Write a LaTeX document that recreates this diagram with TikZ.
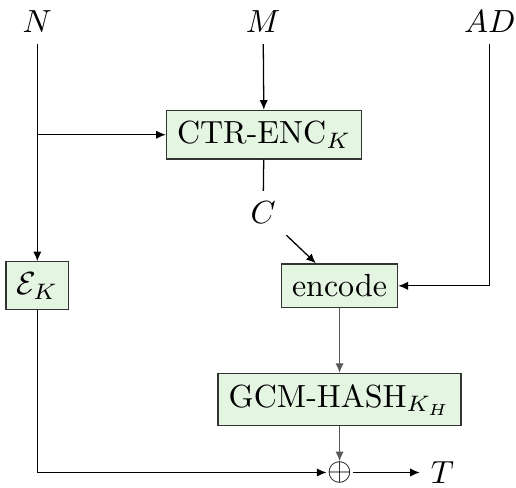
\documentclass[tikz,border=0pt]{standalone}
\usepackage{amsmath,amssymb}
\usepackage{tikz}
\usetikzlibrary{positioning,arrows.meta,calc}

\definecolor{boxfill}{RGB}{228,245,226}

\begin{document}
\begin{tikzpicture}[
  >={Latex[length=3pt,width=2.6pt]}, line width=0.4pt,
  blk/.style={draw=black!80, fill=boxfill, align=center},
  lbl/.style={inner sep=3.33pt},
  fl/.style={->},
  gfl/.style={->, draw=black!65},
]
\useasboundingbox (0,0) rectangle (5.668,-5.350);

% inputs
\node[lbl] (N) at (0.41,-0.24) {$N$};
\node[lbl] (M) at (2.89,-0.24) {$M$};
\node[lbl] (AD) at (5.38,-0.24) {$AD$};

% blocks
\node[blk] (ctr) at (2.90,-1.48) {CTR-ENC$_K$};
\node[lbl] (C) at (2.89,-2.34) {$C$};
\node[blk] (enc) at (3.73,-3.14) {encode};
\node[blk] (ek) at (0.41,-3.14) {$\mathcal{E}_K$};
\node[blk] (gh) at (3.73,-4.39) {GCM-HASH$_{K_H}$};
\node[inner sep=0pt] (xor) at (3.73,-5.19) {$\oplus$};
\node[lbl, inner ysep=0.5pt, anchor=west] (T) at (4.61,-5.19) {$T$};

\draw[fl] (M) -- (ctr);
\draw[fl] (N) -- (ek);
\draw[fl] (N |- ctr) -- (ctr);
\draw (ctr) -- (C);
\draw[fl] (C) -- (enc);
\draw[fl] (AD) |- (enc);
\draw[gfl] (enc) -- (gh);
\draw[gfl] (gh) -- (xor);
\draw[fl] (ek) |- (xor);
\draw[fl] (xor) -- (T);
\end{tikzpicture}
\end{document}
